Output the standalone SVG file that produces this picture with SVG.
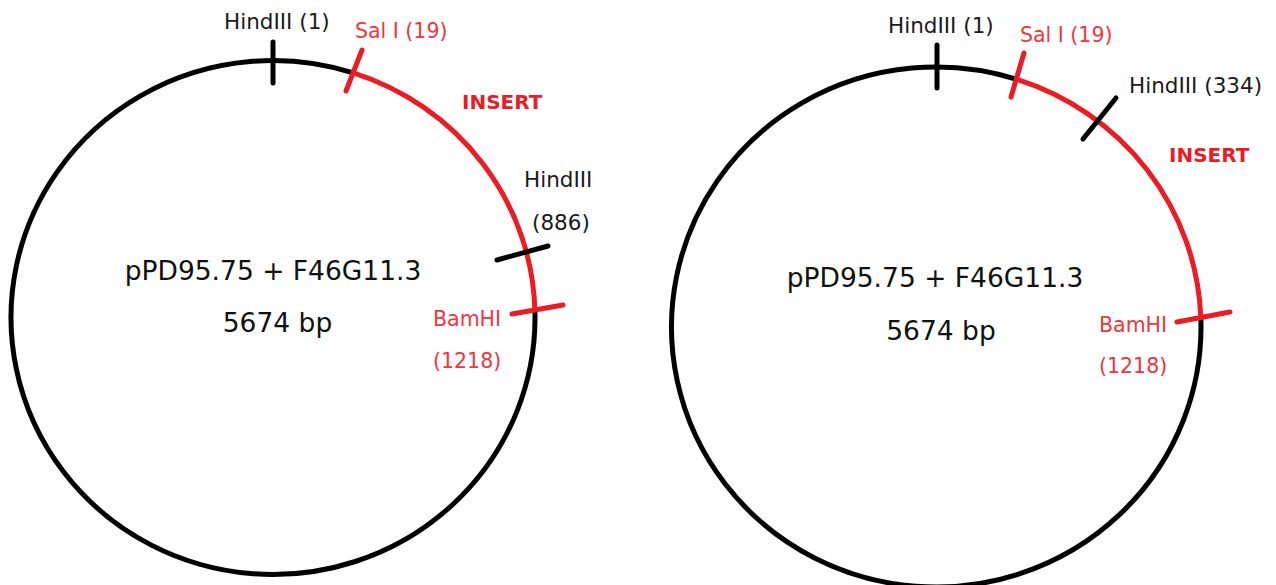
<svg xmlns="http://www.w3.org/2000/svg" width="1276" height="585" viewBox="0 0 1276 585">
  <style>
    .backbone { fill: none; stroke: #000; stroke-width: 5; }
    .insert { fill: none; stroke: #ED1C24; stroke-width: 5; }
    .tick-k { stroke: #000; stroke-width: 5; stroke-linecap: round; }
    .tick-r { stroke: #ED1C24; stroke-width: 5; stroke-linecap: round; }
    text { font-family: "DejaVu Sans", Verdana, sans-serif; }
    .lbl-k { font-size: 21.5px; fill: #1a1a1a; }
    .lbl-r { font-size: 20.5px; fill: #F0363E; }
    .ins { font-size: 20px; font-weight: bold; fill: #ED1C24; }
    .title { font-size: 26.5px; fill: #111; text-anchor: middle; }
  </style>

  <rect width="1276" height="585" fill="#fff"/>

  <!-- Plasmid map 1: insert with internal HindIII at 886 -->
  <g id="plasmid-1">
    <g id="p1-backbone">
      <path class="backbone" d="M 534.9 310 A 262 257 0 1 1 354 73.1"/>
      <path class="insert" d="M 354 73.1 A 262 257 0 0 1 534.9 310"/>
    </g>
    <g id="p1-hind1">
      <line class="tick-k" x1="273" y1="42" x2="273" y2="83"/>
      <text class="lbl-k" x="224" y="29">HindIII (1)</text>
    </g>
    <g id="p1-sal1">
      <line class="tick-r" x1="362" y1="50" x2="346" y2="91"/>
      <text class="lbl-r" x="355" y="38">Sal I (19)</text>
    </g>
    <g id="p1-insert-label">
      <text class="ins" x="462" y="109">INSERT</text>
    </g>
    <g id="p1-hind886">
      <line class="tick-k" x1="497" y1="260" x2="548" y2="246"/>
      <text class="lbl-k" x="524" y="187">HindIII</text>
      <text class="lbl-k" x="532" y="230">(886)</text>
    </g>
    <g id="p1-bamhi">
      <line class="tick-r" x1="512" y1="314" x2="563" y2="305"/>
      <text class="lbl-r" x="433" y="325.5">BamHI</text>
      <text class="lbl-r" x="433" y="368">(1218)</text>
    </g>
    <g id="p1-title">
      <text class="title" x="273" y="280">pPD95.75 + F46G11.3</text>
      <text class="title" x="277.5" y="332">5674 bp</text>
    </g>
  </g>

  <!-- Plasmid map 2: insert with internal HindIII at 334 -->
  <g id="plasmid-2">
    <g id="p2-backbone">
      <path class="backbone" d="M 1200.8 317 A 264.75 260 0 1 1 1017 79.4"/>
      <path class="insert" d="M 1017 79.4 A 264.75 260 0 0 1 1200.8 317"/>
    </g>
    <g id="p2-hind1">
      <line class="tick-k" x1="937" y1="45" x2="937" y2="88"/>
      <text class="lbl-k" x="888" y="33">HindIII (1)</text>
    </g>
    <g id="p2-sal1">
      <line class="tick-r" x1="1024" y1="53" x2="1011" y2="97"/>
      <text class="lbl-r" x="1020" y="41.5">Sal I (19)</text>
    </g>
    <g id="p2-hind334">
      <line class="tick-k" x1="1116" y1="98" x2="1083" y2="139"/>
      <text class="lbl-k" x="1129" y="93">HindIII (334)</text>
    </g>
    <g id="p2-insert-label">
      <text class="ins" x="1169" y="161.5">INSERT</text>
    </g>
    <g id="p2-bamhi">
      <line class="tick-r" x1="1177" y1="322" x2="1230" y2="312"/>
      <text class="lbl-r" x="1099" y="331.5">BamHI</text>
      <text class="lbl-r" x="1099" y="373">(1218)</text>
    </g>
    <g id="p2-title">
      <text class="title" x="935" y="287">pPD95.75 + F46G11.3</text>
      <text class="title" x="941" y="340">5674 bp</text>
    </g>
  </g>

  <!-- no connectors between the two maps -->
  <g id="connectors"/>
</svg>
